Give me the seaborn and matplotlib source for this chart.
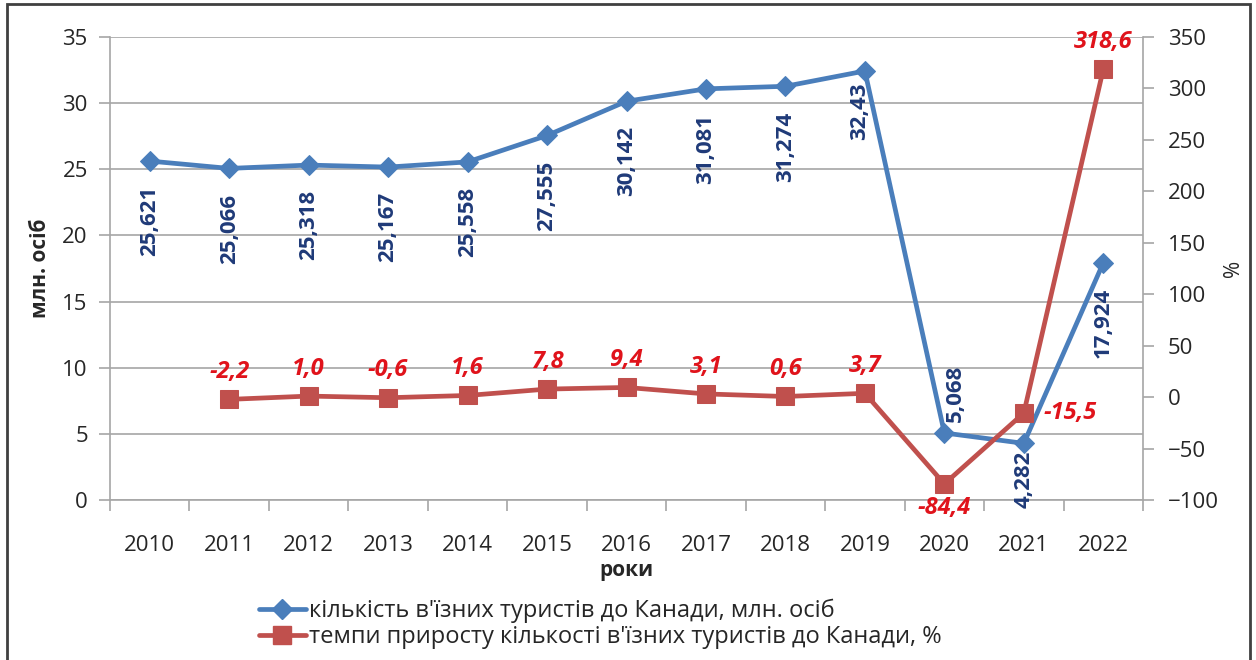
import numpy as np
import pandas as pd
import matplotlib
matplotlib.use("Agg")
import matplotlib.pyplot as plt
import seaborn as sns
from matplotlib.patches import Rectangle
from matplotlib.ticker import FixedLocator

# chart data
years = ['2010', '2011', '2012', '2013', '2014', '2015', '2016',
         '2017', '2018', '2019', '2020', '2021', '2022']
tourists = [25.621, 25.066, 25.318, 25.167, 25.558, 27.555, 30.142,
            31.081, 31.274, 32.43, 5.068, 4.282, 17.924]
tourist_labels = ['25,621', '25,066', '25,318', '25,167', '25,558', '27,555', '30,142',
                  '31,081', '31,274', '32,43', '5,068', '4,282', '17,924']
growth_years = years[1:]
growth = [-2.2, 1.0, -0.6, 1.6, 7.8, 9.4, 3.1, 0.6, 3.7, -84.4, -15.5, 318.6]
growth_labels = ['-2,2', '1,0', '-0,6', '1,6', '7,8', '9,4', '3,1', '0,6', '3,7',
                 '-84,4', '-15,5', '318,6']

name_blue = "кількість в'їзних туристів до Канади, млн. осіб"
name_red = "темпи приросту кількості в'їзних туристів до Канади, %"

BLUE = '#4A7EBB'
RED = '#C0504D'
NAVY = '#1F3A78'
LRED = '#E0131B'
GRID = '#A6A6A6'
TXT = '#262626'

sns.set_style("white")
plt.rcParams['font.family'] = ['Open Sans', 'DejaVu Sans']

df_t = pd.DataFrame({'pos': np.arange(len(years)), 'value': tourists})
df_g = pd.DataFrame({'pos': np.arange(1, len(years)), 'value': growth})

fig = plt.figure(figsize=(12.56, 6.6), dpi=100)
ax = fig.add_axes([110 / 1256, 1 - 500 / 660, (1143 - 110) / 1256, (500 - 37) / 660])
ax2 = ax.twinx()

sns.lineplot(data=df_t, x='pos', y='value', ax=ax, color=BLUE, lw=3.4,
             marker='D', markersize=10, markeredgecolor=BLUE, zorder=4)
sns.lineplot(data=df_g, x='pos', y='value', ax=ax2, color=RED, lw=3.4,
             marker='s', markersize=13, markeredgecolor=RED, zorder=3)

ax.set_xlim(-0.5, len(years) - 0.5)
ax.set_ylim(0, 35)
ax.set_yticks(range(0, 36, 5))
ax2.set_ylim(-100, 350)
ax2.set_yticks(range(-100, 351, 50))

ax.set_xticks(np.arange(len(years)))
ax.set_xticklabels(years)
ax.xaxis.set_minor_locator(FixedLocator(np.arange(-0.5, len(years), 1)))
ax.tick_params(axis='x', which='major', length=0, pad=25, labelsize=16, colors=TXT)
ax.tick_params(axis='x', which='minor', length=8, width=1.2, color=GRID, direction='out', bottom=True)
ax.tick_params(axis='y', length=8, width=1.2, color=GRID, direction='out', left=True,
               labelsize=16, labelcolor=TXT, pad=8)
ax2.tick_params(axis='y', length=8, width=1.2, color=GRID, direction='out', right=True,
                labelsize=16, labelcolor=TXT, pad=10)

ax.grid(axis='y', color=GRID, lw=1.2)
ax.set_axisbelow(True)
for sp in ['left', 'bottom']:
    ax.spines[sp].set_color(GRID)
    ax.spines[sp].set_linewidth(1.2)
ax.spines['top'].set_visible(False)
ax.spines['right'].set_visible(False)
ax2.spines['right'].set_color(GRID)
ax2.spines['right'].set_linewidth(1.2)
for sp in ['top', 'left', 'bottom']:
    ax2.spines[sp].set_visible(False)

ax.set_xlabel('роки', fontsize=15, fontweight='bold', color=TXT, labelpad=3)
ax.set_ylabel('млн. осіб', fontsize=15, fontweight='bold', color=TXT, labelpad=8)
ax2.set_ylabel('%', fontsize=15, color=TXT, labelpad=3)

# data labels for tourists (rotated)
for i, (v, lab) in enumerate(zip(tourists, tourist_labels)):
    yr = years[i]
    if yr == '2020':
        ax.annotate(lab, (i, v), xytext=(8, 8), textcoords='offset points', rotation=90,
                    ha='center', va='bottom', fontsize=16, fontweight='bold', color=NAVY, zorder=6)
    else:
        dx, dy = 0, -18
        if yr == '2019':
            dx, dy = -4, -8
        elif yr == '2021':
            dx, dy = 0, -5
        ax.annotate(lab, (i, v), xytext=(dx, dy), textcoords='offset points', rotation=90,
                    ha='center', va='top', fontsize=16, fontweight='bold', color=NAVY, zorder=6)

# data labels for growth rate
for i, (v, lab) in enumerate(zip(growth, growth_labels)):
    yr = growth_years[i]
    x = i + 1
    kw = dict(textcoords='offset points', fontsize=17, fontweight='bold',
              style='italic', color=LRED, zorder=6)
    if yr == '2020':
        ax2.annotate(lab, (x, v), xytext=(0, -9), ha='center', va='top', **kw)
    elif yr == '2021':
        ax2.annotate(lab, (x, v), xytext=(14, 0), ha='left', va='center', **kw)
    else:
        ax2.annotate(lab, (x, v), xytext=(0, 11), ha='center', va='bottom', **kw)

# legend
h1 = plt.Line2D([], [], color=BLUE, lw=3.4, marker='D', markersize=10)
h2 = plt.Line2D([], [], color=RED, lw=3.4, marker='s', markersize=13)
fig.legend([h1, h2], [name_blue, name_red], loc='upper left',
           bbox_to_anchor=(242 / 1256, 1 - 582 / 660), frameon=False, fontsize=17,
           handlelength=2.0, handletextpad=0.15, labelspacing=0.1, labelcolor=TXT,
           borderpad=0.2)

# outer frame
fig.patches.append(Rectangle((7 / 1256, -0.02), 1243 / 1256, 1.02 - 4 / 660,
                             transform=fig.transFigure, fill=False, ec='#404040', lw=2))

fig.savefig('out.png', dpi=100)
